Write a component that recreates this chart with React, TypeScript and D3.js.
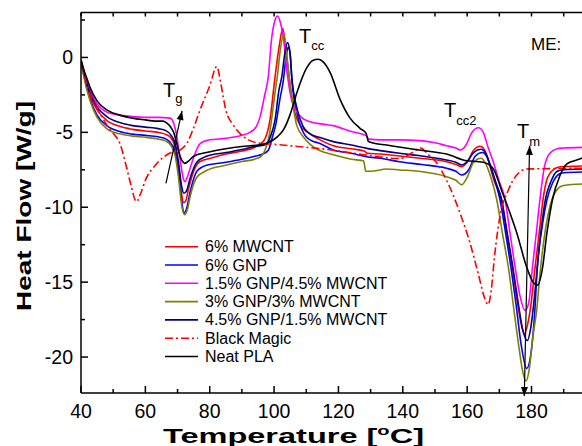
import React from 'react';
import * as d3 from 'd3';

type P = [number, number];

const xTicks = [40, 60, 80, 100, 120, 140, 160, 180];
const yTicks = [0, -5, -10, -15, -20];

const mwcnt6: P[] = [[40,-0.2],[41,-1.2],[42,-2.0],[43,-2.65],[45,-3.5],[48,-4.2],[52,-4.6],[56,-4.8],[60,-4.91],[64,-5.0],[66.5,-5.15],[68,-5.4],[69.3,-6.0],[70.3,-7.3],[71.2,-9.0],[71.8,-9.7],[72.5,-9.6],[73.5,-8.7],[75,-7.6],[77,-6.95],[80,-6.75],[85,-6.45],[90,-6.25],[94,-6.0],[96.7,-5.6],[98.7,-4.2],[100.3,-1.3],[101.7,0.9],[102.7,1.95],[103.7,0.5],[105,-1.9],[106.5,-3.7],[108,-4.5],[111.2,-5.1],[114.3,-5.5],[118.4,-5.9],[124,-6.1],[128,-6.25],[129,-6.4],[133,-6.45],[139,-6.58],[146,-6.75],[153.6,-6.96],[156.5,-7.15],[158.3,-7.3],[160,-7.0],[162,-6.2],[164,-5.93],[165.5,-6.2],[167,-7.2],[168.5,-8.3],[170.7,-9.5],[172.3,-11.7],[174,-14.0],[175.5,-16.2],[176.8,-17.8],[177.7,-18.45],[178.7,-17.9],[180,-16.2],[181,-14.2],[182.4,-11.7],[183.5,-9.6],[185,-8.0],[187,-7.45],[189,-7.3],[196,-7.25]];

const gnp6: P[] = [[40,-0.2],[41,-1.3],[42,-2.2],[43,-2.9],[45,-3.85],[48,-4.55],[52,-4.95],[56,-5.12],[60,-5.2],[64,-5.3],[66.5,-5.45],[68,-5.75],[69.3,-6.4],[70.3,-7.7],[71.3,-9.6],[72,-10.4],[72.8,-10.1],[74,-8.9],[76,-7.6],[79,-7.2],[85,-7.0],[90,-6.8],[94,-6.6],[96.5,-6.45],[98.2,-6.2],[99.5,-5.3],[100.6,-4.4],[101.8,-2.8],[102.9,-1.5],[103.7,0.0],[104.4,0.7],[105,0.2],[105.5,-1.4],[107.2,-3.8],[109.6,-5.2],[111.2,-5.5],[114.3,-5.75],[118.4,-6.18],[124,-6.4],[128.8,-6.63],[133,-6.73],[139,-6.96],[146,-7.15],[153.6,-7.4],[156.5,-7.6],[158.3,-7.85],[160.5,-7.5],[162.5,-6.6],[164.7,-6.35],[166.3,-6.7],[167.7,-7.6],[169,-8.5],[170.2,-9.5],[172,-11.8],[173.6,-14.0],[175.2,-16.5],[176.8,-19.2],[178.5,-20.76],[179.8,-19.8],[181,-17.0],[181.8,-14.0],[183.3,-11.3],[184.8,-9.5],[186.5,-8.4],[188.5,-7.8],[190,-7.7],[196,-7.65]];

const gnp15mw45: P[] = [[40,-0.2],[41,-1.0],[42,-1.7],[43,-2.3],[45,-3.1],[48,-3.65],[52,-3.85],[56,-3.95],[60,-4.0],[64,-4.0],[67.7,-4.05],[68.8,-4.4],[69.8,-5.3],[70.8,-6.8],[71.7,-8.0],[72.3,-8.3],[73,-8.0],[74.5,-7.0],[77,-5.75],[80,-5.5],[85,-5.4],[90,-5.2],[92.5,-5.0],[94.5,-4.6],[95.6,-4.0],[97,-2.6],[98.2,-1.28],[99.2,1.2],[100.3,2.5],[101.1,2.77],[102,2.3],[102.9,1.3],[104.1,-1.1],[105.5,-2.9],[107,-3.6],[108.5,-4.0],[111.2,-4.3],[115,-4.45],[118.4,-4.55],[124,-4.95],[128.5,-5.2],[129.5,-5.45],[133,-5.5],[139,-5.5],[145.3,-5.55],[150,-5.7],[153.6,-5.89],[156.5,-6.05],[158,-6.18],[159.5,-5.9],[161.5,-5.0],[163.5,-4.69],[165,-5.0],[166.5,-6.0],[168,-6.9],[170,-8.3],[171.8,-9.5],[173.3,-11.7],[174.9,-14.0],[176.5,-16.0],[178,-16.9],[179.2,-16.3],[180.3,-14.0],[181.5,-11.7],[182.6,-9.5],[184,-7.3],[185.7,-6.4],[188,-6.1],[190,-6.05],[196,-6.0]];

const gnp3mw3: P[] = [[40,-0.2],[41,-1.4],[42,-2.3],[43,-3.0],[45,-4.0],[48,-4.75],[52,-5.1],[56,-5.25],[60,-5.33],[64,-5.45],[66.5,-5.6],[68,-5.9],[69.3,-6.6],[70.3,-8.0],[71.3,-9.9],[72.2,-10.5],[73,-10.2],[74,-9.2],[76,-8.0],[79,-7.55],[85,-7.2],[90,-6.95],[94,-6.8],[96,-6.6],[97.2,-6.18],[98.5,-5.2],[99.2,-4.17],[100.2,-2.5],[101,-1.28],[102,0.6],[102.9,1.5],[103.5,1.1],[104.1,-0.17],[105.5,-2.62],[107,-4.5],[109.1,-5.3],[111.2,-5.8],[114,-6.2],[118.4,-6.5],[124,-6.8],[127.8,-6.9],[128.5,-7.6],[130,-7.6],[135,-7.45],[139,-7.51],[145,-7.6],[153.6,-7.96],[156.5,-8.2],[158.3,-8.5],[160,-8.0],[162,-7.0],[164.3,-6.73],[166,-7.2],[167.5,-8.1],[169.2,-9.5],[171,-11.8],[172.8,-14.0],[174.5,-16.8],[176,-19.2],[177.3,-21.0],[178.3,-21.6],[179.3,-20.8],[180.5,-18.5],[181.6,-16.9],[182.6,-14.5],[184.7,-11.0],[186.3,-9.5],[188.5,-8.7],[190,-8.55],[196,-8.45]];

const gnp45mw15: P[] = [[40,-0.2],[41,-1.1],[42,-1.9],[43,-2.5],[45,-3.3],[48,-3.95],[52,-4.35],[56,-4.55],[60,-4.65],[64,-4.75],[66.5,-4.9],[68,-5.2],[69.3,-5.8],[70.3,-7.0],[71.2,-8.5],[72,-9.07],[72.8,-8.9],[74,-8.0],[76,-7.0],[79,-6.6],[85,-6.35],[90,-6.15],[94,-5.95],[97.7,-5.8],[99,-5.2],[100.3,-4.17],[101.5,-2.2],[102.4,-1.28],[103.3,0.2],[104.2,0.99],[105,0.2],[105.5,-1.28],[107,-3.3],[109,-4.6],[111.2,-5.1],[114.3,-5.35],[118.4,-5.62],[124,-5.85],[128.8,-6.07],[133,-6.22],[139,-6.4],[145,-6.55],[153.6,-6.85],[156.5,-7.0],[158.3,-7.18],[160,-6.95],[162,-6.35],[164.3,-6.13],[166,-6.5],[167.5,-7.4],[169,-8.4],[170.7,-9.5],[172.5,-11.8],[174.2,-14.0],[175.8,-16.3],[177.3,-18.2],[178.7,-18.9],[179.8,-18.0],[181,-15.8],[181.8,-14.0],[183,-11.5],[184.3,-9.5],[186,-8.3],[188,-7.6],[190,-7.5],[196,-7.45]];

const blackMagic: P[] = [[40,-0.2],[41,-1.2],[42,-2.0],[43,-2.6],[45,-3.4],[48,-4.5],[50,-5.06],[52,-5.7],[54,-7.2],[55.5,-8.5],[56.8,-9.5],[57.3,-9.63],[58.5,-9.1],[60,-8.2],[63.5,-7.1],[67.5,-6.4],[71,-6.15],[73,-5.7],[75,-4.7],[77,-3.5],[80,-1.9],[82.2,-0.6],[83.5,-1.8],[85,-3.5],[87.3,-4.5],[89.5,-5.1],[92,-5.5],[95.6,-5.73],[100,-5.8],[108,-5.96],[118,-6.18],[128,-6.5],[139,-6.75],[143,-6.35],[145.5,-6.05],[148,-6.5],[150,-6.9],[153.6,-8.2],[157.8,-10.4],[160.9,-12.4],[163.4,-14.4],[165.5,-16.1],[166.5,-16.5],[167.5,-15.5],[168.5,-13.3],[170.2,-10.6],[172.8,-8.85],[175.4,-7.85],[178.5,-7.45],[196,-7.4]];

const neatPla: P[] = [[40,-0.15],[41,-0.9],[42,-1.5],[43,-2.1],[45,-2.9],[48,-3.5],[52,-3.85],[56,-4.05],[60,-4.17],[63,-4.25],[65.5,-4.25],[66.5,-4.35],[67.7,-4.6],[68.8,-5.0],[69.7,-5.7],[70.8,-6.6],[72.3,-7.07],[73.5,-6.9],[75,-6.6],[79,-6.35],[85,-6.1],[90,-5.95],[95,-5.85],[98,-5.7],[101,-5.3],[103,-4.8],[105,-3.8],[107,-2.4],[110,-0.75],[112,-0.2],[113.7,-0.12],[115,-0.25],[117.4,-1.0],[120.5,-2.8],[123.6,-4.05],[126.7,-4.73],[128.6,-5.07],[129.3,-5.6],[130.5,-5.7],[135,-5.85],[145,-6.18],[153.6,-6.45],[160,-6.9],[163,-6.95],[165,-7.0],[168,-7.4],[171,-9.05],[173,-10.2],[175.4,-11.7],[178.5,-14.0],[180.5,-15.0],[181.9,-15.2],[183.3,-14.2],[184.8,-11.7],[186.5,-9.5],[188.8,-7.9],[191,-7.1],[194,-6.85],[196,-6.7]];

const seriesNames = ['6% MWCNT', '6% GNP', '1.5% GNP/4.5% MWCNT', '3% GNP/3% MWCNT', '4.5% GNP/1.5% MWCNT', 'Black Magic', 'Neat PLA'];
const seriesData = [mwcnt6, gnp6, gnp15mw45, gnp3mw3, gnp45mw15, blackMagic, neatPla];
const seriesColors = ['#ff0000', '#0000ff', '#ff00ff', '#808000', '#000080', '#ff0000', '#000000'];
const seriesDash = [null, null, null, null, null, '8,3,2,3', null];

const W = 582, H = 446;
const x = d3.scaleLinear().domain([40, 200]).range([81, 81 + 160 * 3.218]);
const y = d3.scaleLinear().domain([-22.4, 3]).range([393, 12.5]);
const FONT = 'Arial, "Liberation Sans", Helvetica, sans-serif';

export default function App() {
  const line = d3.line<P>().x(d => x(d[0])).y(d => y(d[1])).curve(d3.curveMonotoneX);
  const xMinor = d3.range(40, 200, 10);
  const yMinor = d3.range(2.5, -22.4, -2.5);
  const left = 81, top = 12.5, bottom = 393;
  const arrow = (x1: number, y1: number, x2: number, y2: number) => {
    const ang = Math.atan2(y2 - y1, x2 - x1);
    const L = 9, w = 3.5;
    const bx = x2 - L * Math.cos(ang), by = y2 - L * Math.sin(ang);
    const px = -Math.sin(ang) * w, py = Math.cos(ang) * w;
    return `M${x2},${y2}L${bx + px},${by + py}L${bx - px},${by - py}Z`;
  };
  const tgA = [x(66.4), y(-8.4), x(71.4), y(-3.57)];
  const tmA = [x(177.75), y(-22.6), x(179.4), y(-5.9)];
  return (
    <svg width={W} height={H} style={{ position: 'absolute', left: 0, top: 0, background: '#fff' }} fontFamily={FONT}>
      <defs>
        <clipPath id="pc"><rect x={left} y={top} width={W - left} height={bottom - top} /></clipPath>
      </defs>
      <g clipPath="url(#pc)" fill="none">
        {seriesData.map((d, i) => (
          <path key={i} d={line(d) || ''} stroke={seriesColors[i]} strokeWidth={1.6}
            strokeDasharray={seriesDash[i] || undefined} strokeLinejoin="round" />
        ))}
      </g>
      <g stroke="#000" strokeWidth={1.5} fill="none">
        <line x1={left} y1={top} x2={W} y2={top} />
        <line x1={left} y1={top} x2={left} y2={bottom} />
        <line x1={left} y1={bottom} x2={W} y2={bottom} />
        {xMinor.map(t => {
          const major = t % 20 === 0;
          return (
            <g key={t}>
              <line x1={x(t)} x2={x(t)} y1={bottom} y2={bottom - (major ? 7 : 4)} />
              <line x1={x(t)} x2={x(t)} y1={top} y2={top + 4} />
            </g>
          );
        })}
        {yMinor.map(v => {
          const major = Math.abs(v % 5) < 1e-6;
          return <line key={v} x1={left} x2={left + (major ? 7 : 4)} y1={y(v)} y2={y(v)} />;
        })}
      </g>
      <g fontSize={19.5} fill="#000">
        {xTicks.map(t => (
          <text key={t} x={x(t)} y={418} textAnchor="middle">{t}</text>
        ))}
        {yTicks.map(v => (
          <text key={v} x={73} y={y(v) + 7} textAnchor="end">{v}</text>
        ))}
      </g>
      <text x={163} y={443} fontWeight="bold" fontSize={21} textLength={261} lengthAdjust="spacingAndGlyphs">
        Temperature [<tspan fontSize={13} dy={-8}>o</tspan><tspan dy={8}>C]</tspan>
      </text>
      <text transform="translate(31,206) rotate(-90)" textAnchor="middle" fontWeight="bold" fontSize={21}
        textLength={210} lengthAdjust="spacingAndGlyphs">Heat Flow [W/g]</text>
      <g stroke="#000" strokeWidth={1.2}>
        <line x1={tgA[0]} y1={tgA[1]} x2={tgA[2]} y2={tgA[3]} />
        <line x1={tmA[0]} y1={tmA[1]} x2={tmA[2]} y2={tmA[3]} />
      </g>
      <path d={arrow(tgA[0], tgA[1], tgA[2], tgA[3])} fill="#000" />
      <path d={arrow(tmA[0], tmA[1], tmA[2], tmA[3])} fill="#000" />
      <path d={arrow(tmA[2], tmA[3], tmA[0], tmA[1])} fill="#000" />
      <g fontSize={20} fill="#000">
        <text x={163} y={97}>T<tspan fontSize={13} dy={6}>g</tspan></text>
        <text x={299} y={43}>T<tspan fontSize={13} dy={7}>cc</tspan></text>
        <text x={444} y={117}>T<tspan fontSize={13} dy={8}>cc2</tspan></text>
        <text x={517} y={138}>T<tspan fontSize={13} dy={8}>m</tspan></text>
        <text x={531} y={50} fontSize={17}>ME:</text>
      </g>
      <g fontSize={16}>
        {seriesNames.map((n, i) => {
          const yy = 246.7 + i * 18.3;
          return (
            <g key={n}>
              <line x1={165} x2={198} y1={yy} y2={yy} stroke={seriesColors[i]} strokeWidth={1.6}
                strokeDasharray={seriesDash[i] || undefined} />
              <text x={205} y={yy + 5.5} fill="#000">{n}</text>
            </g>
          );
        })}
      </g>
    </svg>
  );
}
